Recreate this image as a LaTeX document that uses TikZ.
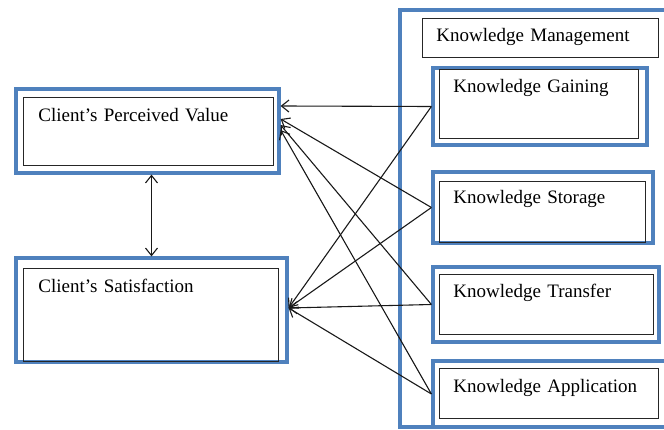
\documentclass[tikz,border=0pt]{standalone}
\usepackage{fontspec}
\setmainfont{Liberation Serif}
\usepackage{xcolor}
\usepackage{tikz}
\usetikzlibrary{positioning,arrows.meta,calc}

\definecolor{kmblue}{RGB}{79,129,189}
\newcommand{\kmfont}{\fontsize{19}{23}\selectfont}

\tikzset{
    outbox/.style={draw=kmblue, line width=3.2pt, rectangle, inner sep=0pt},
    inbox/.style={draw=black!85, line width=0.9pt, rectangle, anchor=north west,
        inner ysep=0pt, align=left, font=\kmfont},
    link/.style={->, line width=1.1pt, black!90}
}

\begin{document}
\begin{tikzpicture}[x=1pt, y=-1pt, >={Straight Barb[length=7.5pt,width=12pt]}]
    \clip (0,0) rectangle (664,430);

    % knowledge management frame
    \node[outbox, minimum width=290, minimum height=417] (kmOut) at (545,218.5) {};
    \node[inbox, inner xsep=14pt, text width=208pt, text height=23pt, text depth=16pt] (km) at (422,18)
        {Knowledge Management};

    % client side
    \node[outbox, minimum width=263, minimum height=84] (cpvOut) at (147.5,131) {};
    \node[inbox, inner xsep=15pt, text width=220pt, text height=24pt, text depth=44pt] (cpv) at (23,97)
        {Client’s Perceived Value};

    \node[outbox, minimum width=271, minimum height=104] (csOut) at (151.5,310) {};
    \node[inbox, inner xsep=15pt, text width=225pt, text height=24pt, text depth=69pt] (cs) at (23,268)
        {Client’s Satisfaction};

    % knowledge side
    \node[outbox, minimum width=214, minimum height=77] (kgOut) at (540,106.5) {};
    \node[inbox, inner xsep=14pt, text width=171pt, text height=23pt, text depth=46pt] (kg) at (439,69)
        {Knowledge Gaining};

    \node[outbox, minimum width=220, minimum height=71] (ksOut) at (543,207.5) {};
    \node[inbox, inner xsep=14pt, text width=178pt, text height=22pt, text depth=39pt] (ks) at (439,181)
        {Knowledge Storage};

    \node[outbox, minimum width=226, minimum height=75] (ktOut) at (546,304.5) {};
    \node[inbox, inner xsep=14pt, text width=186pt, text height=23pt, text depth=37pt] (kt) at (439,274)
        {Knowledge Transfer};

    \node[outbox, minimum width=234, minimum height=66] (kaOut) at (550,394) {};
    \node[inbox, inner xsep=14pt, text width=191pt, text height=24pt, text depth=26pt] (ka) at (439,368)
        {Knowledge Application};

    % links
    \draw[link] (kgOut.west) -- ([yshift=25pt]cpvOut.east);
    \draw[link] (ksOut.west) -- ([yshift=12pt]cpvOut.east);
    \draw[link] (ktOut.west) -- ([yshift=6pt]cpvOut.east);
    \draw[link] (kaOut.west) -- ([yshift=1pt]cpvOut.east);

    \draw[link] (kgOut.west) -- ([yshift=2pt]csOut.east);
    \draw[link] (ksOut.west) -- ([yshift=2pt]csOut.east);
    \draw[link] (ktOut.west) -- ([yshift=2pt]csOut.east);
    \draw[link] (kaOut.west) -- ([yshift=2pt]csOut.east);

    \draw[link, <->] (csOut.north |- cpvOut.south) -- (csOut.north);
\end{tikzpicture}
\end{document}
